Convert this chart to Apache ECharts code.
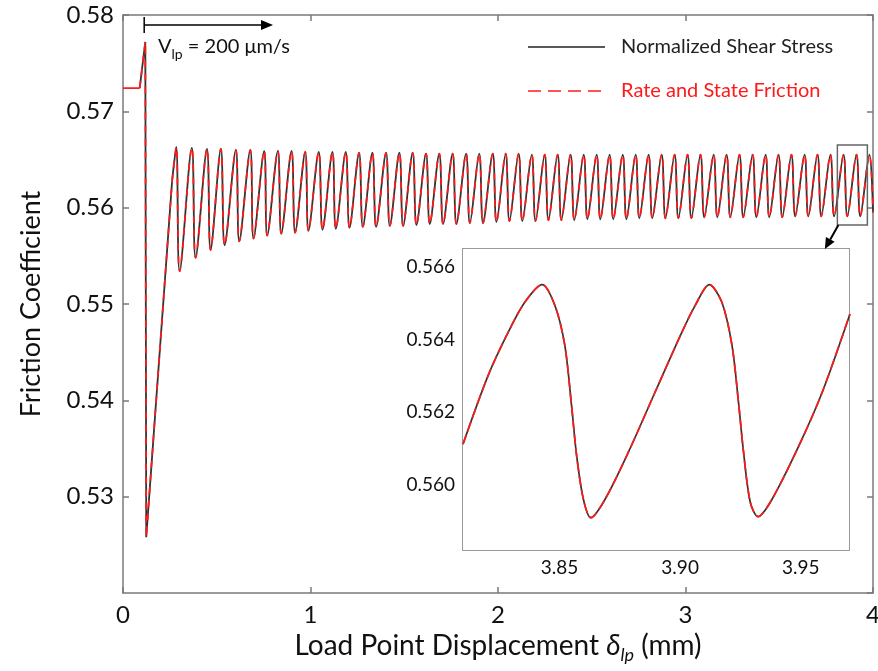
<!DOCTYPE html>
<html>
<head>
<meta charset="utf-8">
<script src="https://cdn.jsdelivr.net/npm/echarts@6/dist/echarts.min.js"></script>
<style>
  html, body { margin: 0; padding: 0; background: #fff; }
  #chart { width: 878px; height: 671px; }
</style>
</head>
<body>
<div id="chart"></div>
<script>
// ---- data ----
// start of run: steady sliding, velocity step, sharp drop and reload
const redFlat = [[0, 0.5724], [0.089, 0.5724]];
const spikeStart = [[0.089, 0.5724], [0.119, 0.5772], [0.124, 0.5258], [0.262, 0.5628]];

// stick-slip oscillation peaks and troughs (mm, friction)
const peaks = [
  [0.284, 0.5663], [0.367, 0.5662], [0.448, 0.5661], [0.522, 0.5661], [0.602, 0.5660], [0.679, 0.5660],
  [0.753, 0.5659], [0.826, 0.5659], [0.899, 0.5659], [0.972, 0.5658], [1.044, 0.5658], [1.117, 0.5658],
  [1.188, 0.5658], [1.259, 0.5657], [1.330, 0.5657], [1.403, 0.5657], [1.474, 0.5657], [1.545, 0.5657],
  [1.616, 0.5656], [1.687, 0.5656], [1.758, 0.5656], [1.830, 0.5656], [1.900, 0.5656], [1.972, 0.5656],
  [2.041, 0.5656], [2.110, 0.5656], [2.180, 0.5655], [2.249, 0.5655], [2.318, 0.5655], [2.387, 0.5655],
  [2.457, 0.5655], [2.526, 0.5655], [2.595, 0.5655], [2.665, 0.5655], [2.734, 0.5655], [2.803, 0.5655],
  [2.873, 0.5655], [2.942, 0.5655], [3.011, 0.5655], [3.080, 0.5655], [3.150, 0.5655], [3.219, 0.5655],
  [3.288, 0.5655], [3.358, 0.5655], [3.427, 0.5655], [3.496, 0.5655], [3.565, 0.5655], [3.635, 0.5655],
  [3.704, 0.5655], [3.773, 0.5655], [3.843, 0.5655], [3.912, 0.5655], [3.981, 0.5655]
];
const troughs = [
  [0.302, 0.5534], [0.387, 0.5548], [0.467, 0.5556], [0.542, 0.5561], [0.620, 0.5565], [0.696, 0.5568],
  [0.769, 0.5571], [0.844, 0.5573], [0.918, 0.5574], [0.989, 0.5576], [1.064, 0.5577], [1.135, 0.5578],
  [1.208, 0.5579], [1.279, 0.5580], [1.350, 0.5580], [1.423, 0.5581], [1.494, 0.5581], [1.565, 0.5582],
  [1.636, 0.5583], [1.707, 0.5583], [1.778, 0.5583], [1.850, 0.5584], [1.920, 0.5584], [1.992, 0.5585],
  [2.061, 0.5586], [2.130, 0.5586], [2.200, 0.5586], [2.269, 0.5587], [2.338, 0.5587], [2.407, 0.5587],
  [2.477, 0.5588], [2.546, 0.5588], [2.615, 0.5588], [2.685, 0.5588], [2.754, 0.5589], [2.823, 0.5589],
  [2.893, 0.5589], [2.962, 0.5589], [3.031, 0.5589], [3.100, 0.5590], [3.170, 0.5590], [3.239, 0.5590],
  [3.308, 0.5590], [3.378, 0.5590], [3.447, 0.5590], [3.516, 0.5590], [3.585, 0.5591], [3.655, 0.5591],
  [3.724, 0.5591], [3.793, 0.5591], [3.863, 0.5591], [3.932, 0.5591]
];
const endPoint = [4.0, 0.5595];

// zoomed window 3.81 - 3.97 mm
const insetCurve = [
  [3.8100, 0.56112], [3.8204, 0.56301], [3.8287, 0.56420], [3.8356, 0.56503], [3.8428, 0.56552],
  [3.8481, 0.56494], [3.8522, 0.56384], [3.8550, 0.56218], [3.8571, 0.56080], [3.8599, 0.55960],
  [3.8630, 0.55909], [3.8689, 0.55960], [3.8785, 0.56089], [3.8896, 0.56255], [3.9007, 0.56420],
  [3.9062, 0.56494], [3.9121, 0.56552], [3.9173, 0.56503], [3.9215, 0.56384], [3.9242, 0.56227],
  [3.9263, 0.56089], [3.9291, 0.55951], [3.9323, 0.55912], [3.9381, 0.55960], [3.9492, 0.56107],
  [3.9589, 0.56255], [3.9704, 0.56471]
];

const mainXRange = [0, 4];
const mainYRange = [0.52, 0.58];
const insetXRange = [3.81, 3.97];
const insetYRange = [0.5582, 0.5665];
const insetXTicks = [3.85, 3.90, 3.95];
const insetYTicks = [0.560, 0.562, 0.564, 0.566];

// peaks and troughs alternate
const oscillation = [[0.262, 0.5628]];
peaks.forEach((p, i) => {
  oscillation.push(p);
  if (troughs[i]) oscillation.push(troughs[i]);
});
oscillation.push(endPoint);

const FONT = 'Lato, "Open Sans", sans-serif';
const axisLine = { color: '#7a7a7a', width: 1.5 };
const black = '#333333';
const red = '#ff1a1a';
const dash = [7, 6];

function boxAxis(extra) {
  return Object.assign({
    type: 'value',
    axisLine: { show: true, onZero: false, lineStyle: axisLine },
    axisTick: { show: true, inside: true, length: 6, lineStyle: axisLine },
    splitLine: { show: false },
    axisLabel: { show: false }
  }, extra);
}

const chart = echarts.init(document.getElementById('chart'));

chart.setOption({
  animation: false,
  backgroundColor: '#fff',
  grid: [
    { left: 123, right: 5, top: 15, bottom: 78, outerBoundsMode: 'none' },
    { left: 463, right: 29, top: 249, bottom: 121, outerBoundsMode: 'none',
      show: true, backgroundColor: '#fff', borderWidth: 0, z: 3 }
  ],
  xAxis: [
    boxAxis({
      gridIndex: 0, position: 'bottom', min: mainXRange[0], max: mainXRange[1], interval: 1,
      axisLabel: { show: true, fontSize: 24, color: '#111', margin: 10, fontFamily: FONT },
      name: '{a|Load Point Displacement }{d|δ}{s|lp}{a| (mm)}',
      nameLocation: 'middle', nameGap: 33,
      nameTextStyle: {
        rich: {
          a: { fontSize: 28, color: '#111', fontFamily: FONT, lineHeight: 36, verticalAlign: 'middle' },
          d: { fontSize: 28, color: '#111', fontFamily: FONT, fontStyle: 'italic', lineHeight: 36, verticalAlign: 'middle' },
          s: { fontSize: 18, color: '#111', fontFamily: FONT, fontStyle: 'italic', lineHeight: 36, verticalAlign: 'bottom' }
        }
      }
    }),
    boxAxis({ gridIndex: 0, position: 'top', min: mainXRange[0], max: mainXRange[1], interval: 1 }),
    boxAxis({
      gridIndex: 1, position: 'bottom', min: insetXRange[0], max: insetXRange[1],
      axisTick: { show: true, inside: true, length: 5, lineStyle: axisLine, customValues: insetXTicks },
      axisLabel: {
        show: true, fontSize: 19, color: '#111', margin: 8, fontFamily: FONT,
        customValues: insetXTicks, formatter: v => v.toFixed(2)
      }
    }),
    boxAxis({
      gridIndex: 1, position: 'top', min: insetXRange[0], max: insetXRange[1],
      axisTick: { show: true, inside: true, length: 5, lineStyle: axisLine, customValues: insetXTicks }
    })
  ],
  yAxis: [
    boxAxis({
      gridIndex: 0, position: 'left', min: mainYRange[0], max: mainYRange[1], interval: 0.01,
      axisLabel: {
        show: true, fontSize: 24, color: '#111', margin: 9, fontFamily: FONT,
        showMinLabel: false, formatter: v => v.toFixed(2)
      },
      name: 'Friction Coefficient', nameLocation: 'middle', nameGap: 78,
      nameTextStyle: { fontSize: 27, color: '#111', fontFamily: FONT }
    }),
    boxAxis({ gridIndex: 0, position: 'right', min: mainYRange[0], max: mainYRange[1], interval: 0.01 }),
    boxAxis({
      gridIndex: 1, position: 'left', min: insetYRange[0], max: insetYRange[1],
      axisTick: { show: true, inside: true, length: 5, lineStyle: axisLine, customValues: insetYTicks },
      axisLabel: {
        show: true, fontSize: 19, color: '#111', margin: 8, fontFamily: FONT,
        customValues: insetYTicks, formatter: v => v.toFixed(3)
      }
    }),
    boxAxis({
      gridIndex: 1, position: 'right', min: insetYRange[0], max: insetYRange[1],
      axisTick: { show: true, inside: true, length: 5, lineStyle: axisLine, customValues: insetYTicks }
    })
  ],
  series: [
    { type: 'line', xAxisIndex: 0, yAxisIndex: 0, data: spikeStart, showSymbol: false,
      lineStyle: { color: black, width: 1.8 } },
    { type: 'line', xAxisIndex: 0, yAxisIndex: 0, data: oscillation, showSymbol: false, smooth: 0.35,
      lineStyle: { color: black, width: 1.8 } },
    { type: 'line', xAxisIndex: 0, yAxisIndex: 0, data: redFlat, showSymbol: false,
      lineStyle: { color: red, width: 1.7 } },
    { type: 'line', xAxisIndex: 0, yAxisIndex: 0, data: spikeStart, showSymbol: false,
      lineStyle: { color: red, width: 1.7, type: dash } },
    { type: 'line', xAxisIndex: 0, yAxisIndex: 0, data: oscillation, showSymbol: false, smooth: 0.35,
      lineStyle: { color: red, width: 1.7, type: dash } },
    { type: 'line', xAxisIndex: 2, yAxisIndex: 2, data: insetCurve, showSymbol: false, smooth: 0.3, z: 5,
      lineStyle: { color: black, width: 1.7 } },
    { type: 'line', xAxisIndex: 2, yAxisIndex: 2, data: insetCurve, showSymbol: false, smooth: 0.3, z: 6,
      lineStyle: { color: red, width: 1.7, type: [10, 4] } }
  ]
});

// annotations placed from the axes
function arrowHead(tip, from, len, half) {
  const dx = tip[0] - from[0], dy = tip[1] - from[1];
  const l = Math.sqrt(dx * dx + dy * dy);
  const ux = dx / l, uy = dy / l;
  const bx = tip[0] - ux * len, by = tip[1] - uy * len;
  return [tip, [bx - uy * half, by + ux * half], [bx + uy * half, by - ux * half]];
}

const c1 = chart.convertToPixel({ xAxisIndex: 0, yAxisIndex: 0 }, [insetXRange[0], insetYRange[1]]);
const c2 = chart.convertToPixel({ xAxisIndex: 0, yAxisIndex: 0 }, [insetXRange[1], insetYRange[0]]);
const arrowStart = [c1[0] + 1, c2[1]];
const arrowTip = chart.convertToPixel({ xAxisIndex: 2, yAxisIndex: 2 }, [3.96, insetYRange[1]]);
const zoomHead = arrowHead(arrowTip, arrowStart, 11, 5);

const stepX = chart.convertToPixel({ xAxisIndex: 0, yAxisIndex: 0 }, [0.113, 0.58])[0];
const vTip = [273, 25];
const vHead = arrowHead(vTip, [stepX, 25], 12, 5);

chart.setOption({
  graphic: [
    { type: 'rect', z: 10, shape: { x: c1[0], y: c1[1], width: c2[0] - c1[0], height: c2[1] - c1[1] },
      style: { fill: 'none', stroke: '#666', lineWidth: 1.5 } },
    { type: 'line', z: 10, shape: { x1: arrowStart[0], y1: arrowStart[1], x2: zoomHead[1][0] / 2 + zoomHead[2][0] / 2, y2: zoomHead[1][1] / 2 + zoomHead[2][1] / 2 },
      style: { stroke: '#000', lineWidth: 2 } },
    { type: 'polygon', z: 10, shape: { points: zoomHead }, style: { fill: '#000' } },

    { type: 'line', z: 10, shape: { x1: stepX, y1: 17, x2: stepX, y2: 33 }, style: { stroke: '#000', lineWidth: 1.5 } },
    { type: 'line', z: 10, shape: { x1: stepX, y1: 25, x2: vTip[0] - 10, y2: 25 }, style: { stroke: '#000', lineWidth: 1.5 } },
    { type: 'polygon', z: 10, shape: { points: vHead }, style: { fill: '#000' } },
    { type: 'text', z: 10, x: 158, y: 47,
      style: {
        text: '{v|V}{s|lp}{v| = 200 μm/s}', verticalAlign: 'middle',
        rich: {
          v: { fontSize: 20, fill: '#111', fontFamily: FONT, lineHeight: 28, verticalAlign: 'middle' },
          s: { fontSize: 14, fill: '#111', fontFamily: FONT, lineHeight: 28, verticalAlign: 'bottom' }
        }
      } },

    { type: 'line', z: 10, shape: { x1: 528, y1: 47, x2: 605, y2: 47 }, style: { stroke: '#222', lineWidth: 1.5 } },
    { type: 'text', z: 10, x: 621, y: 47,
      style: { text: 'Normalized Shear Stress', fontSize: 20, fill: '#222', fontFamily: FONT, verticalAlign: 'middle' } },
    { type: 'line', z: 10, shape: { x1: 528, y1: 91, x2: 605, y2: 91 },
      style: { stroke: '#ff1a1a', lineWidth: 1.5, lineDash: [13, 7] } },
    { type: 'text', z: 10, x: 621, y: 91,
      style: { text: 'Rate and State Friction', fontSize: 20, fill: '#ff1a1a', fontFamily: FONT, verticalAlign: 'middle' } }
  ]
});
</script>
</body>
</html>
